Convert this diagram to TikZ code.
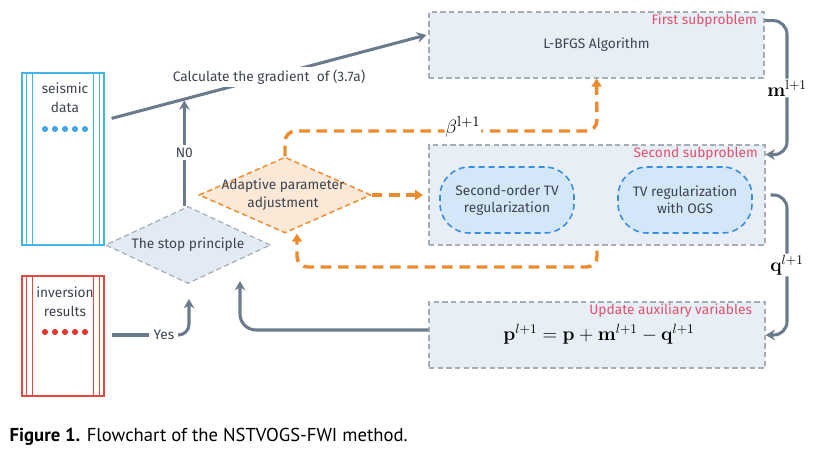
\documentclass[tikz,border=0pt]{standalone}
\usepackage[no-math]{fontspec}
\setmainfont{Fira Sans}
\newfontfamily\capfont{PT Sans}
\usetikzlibrary{shapes.geometric,arrows.meta,calc}
\definecolor{txt}{HTML}{3D4450}
\definecolor{agray}{HTML}{6B7B8E}
\definecolor{bgray}{HTML}{A5ADB7}
\definecolor{bfill}{HTML}{E7EEF6}
\definecolor{sfill}{HTML}{E2EAF3}
\definecolor{orng}{HTML}{EE8B2F}
\definecolor{peach}{HTML}{FBE8D6}
\definecolor{eborder}{HTML}{3A8FDC}
\definecolor{efill}{HTML}{D4E7F8}
\definecolor{cyanc}{HTML}{40B7E8}
\definecolor{redc}{HTML}{E8473D}
\definecolor{pinkc}{HTML}{E2516C}
\definecolor{dotblue}{HTML}{44A8E8}
\definecolor{dotred}{HTML}{E23A2A}
\begin{document}
\begin{tikzpicture}[x=0.75pt,y=-0.75pt,
  font=\fontsize{10.3}{13}\selectfont, text=txt,
  box/.style={draw=bgray, line width=0.9pt, dash pattern=on 4pt off 2.5pt, fill=bfill, inner sep=0},
  ga/.style={draw=agray, line width=2.3pt, -{Stealth[length=7pt,width=8pt]}},
  gl/.style={draw=agray, line width=2.3pt},
  oa/.style={draw=orng, line width=2.6pt, dash pattern=on 8pt off 5pt, -{Triangle[length=6pt,width=7.5pt]}},
  colbox/.style={draw=#1, line width=0.9pt, minimum width=61.5pt, inner sep=0},
  sublabel/.style={text=pinkc, anchor=east},
  ellbox/.style={draw=eborder, line width=1.2pt, dash pattern=on 4.5pt off 3pt, fill=efill, rounded corners=22pt, minimum width=100.5pt, minimum height=49.5pt, align=center, inner sep=0},
  mathlab/.style={text=black, font=\fontsize{14}{16}\selectfont, fill=white, inner sep=1pt}
]
\useasboundingbox (0,0) rectangle (816,470);

% left columns
\node[colbox=cyanc, minimum height=129pt] (seis) at (63,159) {};
\node[colbox=redc, minimum height=90pt] (inv) at (63,336) {};
\foreach \n/\c in {seis/cyanc, inv/redc}{
  \foreach \d in {5,11}{
    \draw[\c, line width=0.9pt] ($(\n.north west)+(\d,0)$) -- ($(\n.south west)+(\d,0)$);
    \draw[\c, line width=0.9pt] ($(\n.north east)+(-\d,0)$) -- ($(\n.south east)+(-\d,0)$);
  }
}
\node[align=center, font=\fontsize{10.3}{14}\selectfont] (seistxt) at (65,97.5) {seismic\\data};
\node[align=center, font=\fontsize{10.3}{14}\selectfont] (invtxt) at (65,301.5) {inversion\\results};
\foreach \i in {0,...,4}{
  \fill[dotblue] (45+\i*10,129) circle (2.3pt);
  \fill[dotred] (45+\i*10,332) circle (2.3pt);
}

% right boxes
\node[box, minimum width=251.25pt, minimum height=49.5pt] (lbfgs) at (596.5,45) {L-BFGS Algorithm};
\node[sublabel] (lab1) at ($(lbfgs.north east)+(-3,9)$) {First subproblem};
\node[box, minimum width=252pt, minimum height=75pt] (second) at (597,195) {};
\node[sublabel] (lab2) at ($(second.north east)+(-3,9)$) {Second subproblem};
\node[ellbox] (e1) at (507,200) {Second-order TV\\regularization};
\node[ellbox] (e2) at (685,200) {TV regularization\\with OGS};
\node[box, minimum width=252pt, minimum height=49.5pt] (update) at (597,335) {};
\node[sublabel] (lab3) at ($(update.north east)+(-9,9)$) {Update auxiliary variables};
\node[text=black, font=\fontsize{14}{16}\selectfont] (eq) at (599,334) {$\mathbf{p}^{l+1} = \mathbf{p} + \mathbf{m}^{l+1} - \mathbf{q}^{l+1}$};

% diamonds
\node[diamond, draw=bgray, line width=0.9pt, dash pattern=on 4pt off 2.5pt, fill=sfill, minimum width=123.75pt, minimum height=57.75pt, aspect=2.14, inner sep=0] (stop) at (188,245) {};
\node (stoptxt) at (stop) {The stop principle};
\node[diamond, draw=orng, line width=1.1pt, dash pattern=on 4pt off 2.5pt, fill=peach, minimum width=129pt, minimum height=57pt, aspect=2.26, inner sep=0] (adapt) at (285,195) {};
\node[align=center] (adapttxt) at (283,194.5) {Adaptive parameter\\adjustment};

% gradient line
\coordinate (g1) at ($(seis.north east)+(7,46)$);
\coordinate (g2) at ($(lbfgs.west)+(-2,-10)$);
\draw[ga] (g1) -- node[pos=0.5, fill=white, inner sep=2pt] (gradlab) {Calculate the gradient\ \ of (3.7a)} (g2);
\coordinate (gno) at ($(g1)!0.231!(g2)$);
\draw[ga, shorten >=1pt] (stop.north -| gno) -- node[fill=white, inner sep=2pt] (nolab) {N0} (gno);

% m and q
\draw[ga, rounded corners=10] ($(lbfgs.north east)+(0,9)$) -- (787,21) -- node[mathlab] (mlab) {$\mathbf{m}^{\mathrm{l+1}}$} (787,155) -- ($(second.north east)+(0,10)$);
\draw[ga, rounded corners=10] ($(second.east)+(5,0)$) -- (787,195) -- node[mathlab] (qlab) {$\mathbf{q}^{l+1}$} (787,335) -- (update.east);

% update to stop
\coordinate (stopin) at (240,281);
\draw[ga, rounded corners=12] ($(update.west)+(0,-5)$) -- (240,330) -- (stopin);

% yes
\node (yes) at (164,335) {Yes};
\coordinate (yesin) at (189,299);
\draw[gl] ($(inv.east)+(7,-1)$) -- (yes.west);
\draw[ga, rounded corners=8] (yes.east) -| (yesin);

% orange
\draw[oa, rounded corners=8] (adapt.north) -- (285,131) -- node[pos=0.57, text=black, fill=white, inner sep=1pt, font=\fontsize{15}{16}\selectfont, yshift=3pt] (blab) {$\beta^{\mathrm{l+1}}$} (597,131) -- (lbfgs.south);
\draw[oa, shorten >=4pt] (adapt.east) -- (second.west);
\coordinate (adaptin) at ($(adapt.south)+(12,0)$);
\draw[oa, rounded corners=8] ($(second.south)+(0,5)$) -- (597,267) -- (297,267) -- (adaptin);

% caption
\node[anchor=west, text=black, font=\capfont\fontsize{14}{16}\selectfont] (cap) at (5,437) {\textbf{Figure 1.} Flowchart of the NSTVOGS-FWI method.};
\end{tikzpicture}
\end{document}
